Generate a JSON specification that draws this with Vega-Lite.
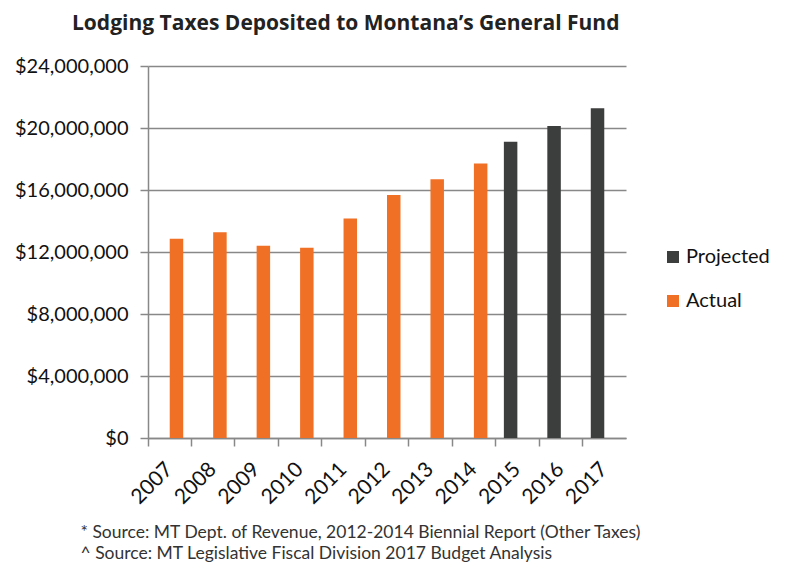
{
  "$schema": "https://vega.github.io/schema/vega-lite/v6.json",
  "width": 478,
  "height": 372,
  "padding": {"left": 14, "top": 13, "right": 5, "bottom": 5},
  "background": "white",
  "title": {
    "text": "Lodging Taxes Deposited to Montana’s General Fund",
    "font": "Open Sans",
    "fontSize": 21,
    "fontWeight": "bold",
    "color": "#222222",
    "anchor": "start",
    "frame": "group",
    "dx": -76,
    "offset": 22
  },
  "data": {
    "values": [
      {"year": "2007", "series": "Actual", "amount": 12860000},
      {"year": "2008", "series": "Actual", "amount": 13280000},
      {"year": "2009", "series": "Actual", "amount": 12410000},
      {"year": "2010", "series": "Actual", "amount": 12280000},
      {"year": "2011", "series": "Actual", "amount": 14160000},
      {"year": "2012", "series": "Actual", "amount": 15680000},
      {"year": "2013", "series": "Actual", "amount": 16690000},
      {"year": "2014", "series": "Actual", "amount": 17710000},
      {"year": "2015", "series": "Projected", "amount": 19110000},
      {"year": "2016", "series": "Projected", "amount": 20130000},
      {"year": "2017", "series": "Projected", "amount": 21270000}
    ]
  },
  "mark": {"type": "bar"},
  "encoding": {
    "x": {
      "field": "year",
      "type": "ordinal",
      "scale": {"paddingInner": 0, "paddingOuter": 0},
      "axis": {
        "bandPosition": 0,
        "labelAngle": -45,
        "labelAlign": "right",
        "labelBaseline": "middle",
        "labelOffset": 0,
        "labelPadding": 20,
        "labelFont": "Lato",
        "labelFontSize": 21,
        "labelColor": "#111111",
        "domainColor": "#888888",
        "domainWidth": 1.5,
        "tickColor": "#888888",
        "tickWidth": 1.5,
        "tickSize": 8,
        "title": ["* Source: MT Dept. of Revenue, 2012-2014 Biennial Report (Other Taxes)", "^ Source: MT Legislative Fiscal Division 2017 Budget Analysis"],
        "titleFont": "Lato",
        "titleFontSize": 17.5,
        "titleFontWeight": "normal",
        "titleColor": "#333333",
        "titleAnchor": "start",
        "titleAlign": "left",
        "titleBaseline": "alphabetic",
        "titleX": -68,
        "titleY": 99,
        "titleLineHeight": 21
      }
    },
    "xOffset": {
      "field": "series",
      "type": "nominal",
      "sort": ["Projected", "Actual"],
      "scale": {"paddingInner": 0, "paddingOuter": 0.61}
    },
    "y": {
      "field": "amount",
      "type": "quantitative",
      "scale": {"domain": [0, 24000000]},
      "axis": {
        "values": [0, 4000000, 8000000, 12000000, 16000000, 20000000, 24000000],
        "format": "$,.0f",
        "title": null,
        "labelFont": "Lato",
        "labelFontSize": 20,
        "labelColor": "#111111",
        "labelPadding": 12,
        "domainColor": "#888888",
        "domainWidth": 1.5,
        "tickColor": "#888888",
        "tickWidth": 1.5,
        "tickSize": 8,
        "grid": true,
        "gridColor": "#888888",
        "gridWidth": 1.5
      }
    },
    "color": {
      "field": "series",
      "type": "nominal",
      "scale": {"domain": ["Projected", "Actual"], "range": ["#3c3d3d", "#f07126"]},
      "legend": {
        "title": null,
        "orient": "none",
        "legendX": 515,
        "legendY": 181,
        "symbolType": "square",
        "symbolSize": 144,
        "symbolStrokeWidth": 0,
        "labelFont": "Lato",
        "labelFontSize": 20,
        "labelColor": "#111111",
        "labelOffset": 3,
        "rowPadding": 24
      }
    }
  },
  "config": {"view": {"stroke": null}}
}
